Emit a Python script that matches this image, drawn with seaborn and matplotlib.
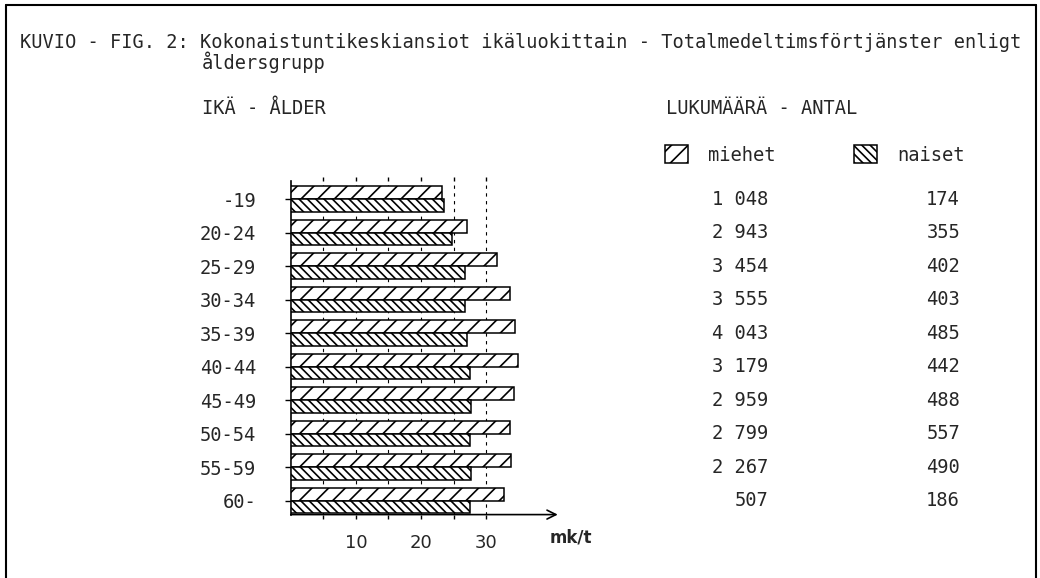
import numpy as np
import pandas as pd
import matplotlib
matplotlib.use('Agg')
import matplotlib.pyplot as plt
import matplotlib.transforms as mtransforms
from matplotlib.lines import Line2D
import seaborn as sns

# Data
ages = ['-19', '20-24', '25-29', '30-34', '35-39', '40-44', '45-49', '50-54', '55-59', '60-']
wage_men = [23.3, 27.1, 31.7, 33.6, 34.5, 34.9, 34.3, 33.7, 33.8, 32.8]
wage_women = [23.5, 24.7, 26.8, 26.7, 27.1, 27.6, 27.7, 27.5, 27.7, 27.5]
count_men = [1048, 2943, 3454, 3555, 4043, 3179, 2959, 2799, 2267, 507]
count_women = [174, 355, 402, 403, 485, 442, 488, 557, 490, 186]
sexes = ['miehet', 'naiset']
xtick_vals = [5, 10, 15, 20, 25, 30]
xtick_labels = ['', '10', '', '20', '', '30']

sns.set_theme(style='white')
plt.rcParams['font.family'] = ['DejaVu Sans Mono', 'DejaVu Sans']
plt.rcParams['hatch.linewidth'] = 1.2
plt.rcParams['hatch.color'] = 'black'
FS = 13.5


def fmt_count(n):
    return f"{n:,}".replace(',', ' ')


df = pd.DataFrame({
    'age': ages * 2,
    'sex': [sexes[0]] * len(ages) + [sexes[1]] * len(ages),
    'wage': wage_men + wage_women,
})

fig = plt.figure(figsize=(10.4, 5.78), dpi=100)
ax = fig.add_axes([0.2796, 0.1097, 0.2567, 0.5778])

sns.barplot(data=df, y='age', x='wage', hue='sex', orient='h', order=ages,
            hue_order=sexes, palette={'miehet': 'white', 'naiset': 'white'},
            saturation=1, width=0.75, edgecolor='black', linewidth=1.1,
            legend=False, ax=ax)

# men: sparse forward slashes, women: dense back slashes
for cont, hatch in zip(ax.containers, ['//', '\\\\\\\\']):
    for bar in cont:
        bar.set_hatch(hatch)
        bar.set_zorder(3)

ax.set_xlim(0, 41)
ax.set_ylim(9.42, -0.55)
ax.set_xlabel('')
ax.set_ylabel('')

# axes, ticks, dotted guide lines
for side in ['top', 'right', 'bottom']:
    ax.spines[side].set_visible(False)
ax.spines['left'].set_color('black')
ax.spines['left'].set_linewidth(1.2)
ax.set_xticks(xtick_vals)
ax.set_xticklabels(xtick_labels, family='DejaVu Sans', fontsize=13)
ax.tick_params(axis='x', bottom=True, top=True, direction='out', length=3,
               width=1, color='black', pad=11)
ax.tick_params(axis='y', left=True, direction='out', length=4, width=1,
               color='black', pad=21)
for lab in ax.get_yticklabels():
    lab.set_fontsize(FS)
    lab.set_family('DejaVu Sans Mono')
ax.grid(axis='x', color='black', linestyle=(0, (3, 4)), linewidth=0.8)
ax.grid(axis='y', visible=False)
ax.set_axisbelow(True)
ax.annotate('', xy=(1.0, 0), xytext=(0, 0), xycoords='axes fraction',
            arrowprops=dict(arrowstyle='->', lw=1.2, color='black',
                            shrinkA=0, shrinkB=0, mutation_scale=16),
            annotation_clip=False)
fig.text(550 / 1040, 1 - 538 / 578, 'mk/t', fontsize=12, weight='bold',
         family='DejaVu Sans', va='center', ha='left')

# count columns on the right
rows = mtransforms.blended_transform_factory(fig.transFigure, ax.transData)
for i, (m, w) in enumerate(zip(count_men, count_women)):
    fig.text(768 / 1040, i, fmt_count(m), transform=rows, ha='right',
             va='center', fontsize=FS)
    fig.text(960 / 1040, i, fmt_count(w), transform=rows, ha='right',
             va='center', fontsize=FS)

# titles
fig.text(20 / 1040, 1 - 42 / 578,
         'KUVIO - FIG. 2: Kokonaistuntikeskiansiot ikäluokittain - Totalmedeltimsförtjänster enligt',
         fontsize=13.4, va='center', ha='left')
fig.text(202 / 1040, 1 - 62 / 578, 'åldersgrupp', fontsize=13.4, va='center', ha='left')
fig.text(202 / 1040, 1 - 109 / 578, 'IKÄ - ÅLDER', fontsize=FS, va='center', ha='left')
fig.text(666 / 1040, 1 - 109 / 578, 'LUKUMÄÄRÄ - ANTAL', fontsize=FS, va='center', ha='left')

# legend with hatched boxes
handles = [ax.containers[0][0], ax.containers[1][0]]
fig.legend(handles=handles, labels=sexes, loc='center left',
           bbox_to_anchor=(665 / 1040, 1 - 155 / 578), ncol=2, frameon=False,
           fontsize=FS, handlelength=1.2, handleheight=1.1, handletextpad=1.1,
           columnspacing=4.2, borderpad=0, borderaxespad=0)

# page frame (open at the bottom)
for xs, ys in [([6, 6], [578, 5]), ([6, 1036], [5, 5]), ([1036, 1036], [5, 578])]:
    fig.add_artist(Line2D([x / 1040 for x in xs], [1 - y / 578 for y in ys],
                          transform=fig.transFigure, color='black', lw=1.5))

fig.savefig('out.png', dpi=100, facecolor='white')
